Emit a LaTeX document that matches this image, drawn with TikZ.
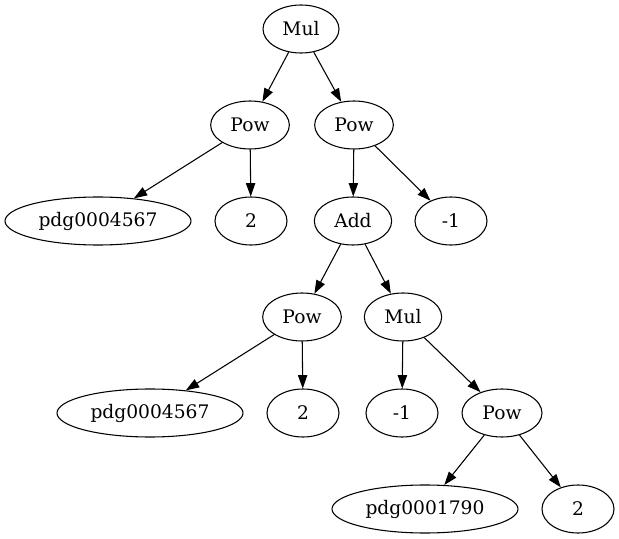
\documentclass[tikz,border=0pt]{standalone}
\usepackage{fontspec}
\setmainfont{DejaVu Serif}
\usetikzlibrary{shapes.geometric,arrows.meta}
\tikzset{
  tn/.style={ellipse, draw, line width=0.8pt, inner sep=0pt,
    minimum height=36pt, minimum width=54pt,
    font=\fontsize{14pt}{16pt}\selectfont},
  pdgbox/.style={tn, minimum width=139.5pt},
  opbox/.style={tn, minimum width=59pt},
  edge/.style={line width=0.8pt, -{Triangle[length=10pt,width=7pt]}}
}
\begin{document}
\begin{tikzpicture}[x=0.75pt,y=-0.75pt]
\useasboundingbox (0,0) rectangle (619,539);
% level 0
\node[opbox, minimum width=57pt] (mul) at (301,29) {Mul};
% level 1
\node[opbox] (powa) at (250,125) {Pow};
\node[opbox] (powb) at (354,125) {Pow};
% level 2
\node[pdgbox] (pdga) at (98,221) {pdg0004567};
\node[tn] (twoa) at (251,221) {2};
\node[opbox, minimum width=58pt] (add) at (353,221) {Add};
\node[tn] (monea) at (451,221) {-1};
% level 3
\node[opbox] (powc) at (302,317) {Pow};
\node[opbox, minimum width=58pt] (mulb) at (403,317) {Mul};
% level 4
\node[pdgbox] (pdgb) at (150,413) {pdg0004567};
\node[tn] (twob) at (303,413) {2};
\node[tn] (moneb) at (402,413) {-1};
\node[opbox, minimum width=60pt] (powd) at (502,413) {Pow};
% level 5
\node[pdgbox] (pdgc) at (425,509) {pdg0001790};
\node[tn] (twoc) at (578,509) {2};
% edges
\draw[edge] (mul) -- (powa);
\draw[edge] (mul) -- (powb);
\draw[edge] (powa) -- (pdga);
\draw[edge] (powa) -- (twoa);
\draw[edge] (powb) -- (add);
\draw[edge] (powb) -- (monea);
\draw[edge] (add) -- (powc);
\draw[edge] (add) -- (mulb);
\draw[edge] (powc) -- (pdgb);
\draw[edge] (powc) -- (twob);
\draw[edge] (mulb) -- (moneb);
\draw[edge] (mulb) -- (powd);
\draw[edge] (powd) -- (pdgc);
\draw[edge] (powd) -- (twoc);
\end{tikzpicture}
\end{document}
